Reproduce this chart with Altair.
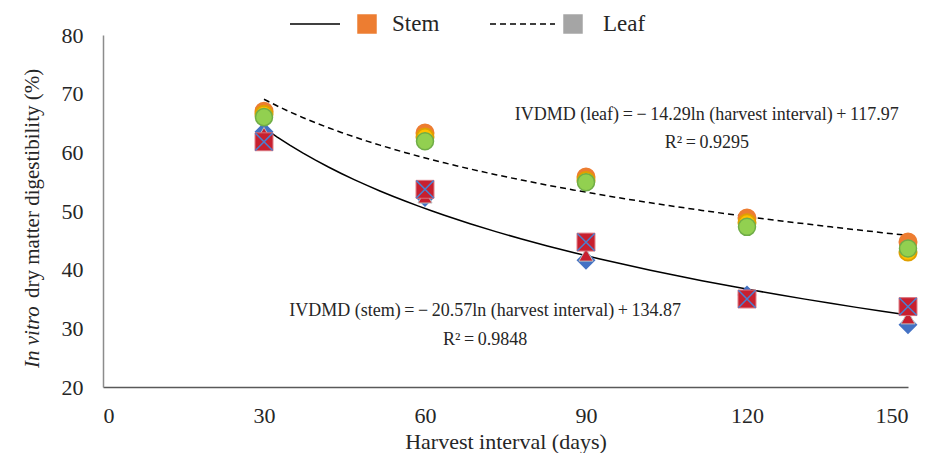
import altair as alt
import pandas as pd

# ---- data ----
days = [30, 60, 90, 120, 150]
stem_diamond = [63.5, 52.3, 41.6, 35.7, 30.6]
stem_triangle = [63.2, 52.4, 42.5, 35.3, 31.8]
stem_square = [61.8, 53.7, 44.7, 35.0, 33.7]
leaf_orange = [67.0, 63.3, 55.8, 48.8, 44.7]
leaf_yellow = [66.5, 62.6, 55.2, 48.0, 43.0]
leaf_green = [66.0, 61.9, 54.9, 47.3, 43.6]

x_ticks = [0, 30, 60, 90, 120, 150]
y_ticks = [20, 30, 40, 50, 60, 70, 80]
legend_labels = ["Stem", "Leaf"]

leaf_eq = "IVDMD (leaf)\u2009=\u2009\u2212\u200914.29ln (harvest interval)\u2009+\u2009117.97"
leaf_r2 = "R\u00b2\u2009=\u20090.9295"
stem_eq = "IVDMD (stem)\u2009=\u2009\u2212\u200920.57ln (harvest interval)\u2009+\u2009134.87"
stem_r2 = "R\u00b2\u2009=\u20090.9848"
ann_x = [112.5, 112.5, 71.2, 71.2]
ann_y = [66.4, 61.6, 33.0, 28.0]
ann_text = [leaf_eq, leaf_r2, stem_eq, stem_r2]

FONT = "'Liberation Serif', 'Times New Roman', serif"
TXT = "#262626"

rows = []
for part, rep, vals in [
    ("Stem", "diamond", stem_diamond),
    ("Stem", "triangle", stem_triangle),
    ("Stem", "square", stem_square),
    ("Leaf", "orange", leaf_orange),
    ("Leaf", "yellow", leaf_yellow),
    ("Leaf", "green", leaf_green),
]:
    for d, v in zip(days, vals):
        rows.append({"days": d, "value": v, "part": part, "rep": rep})
df = pd.DataFrame(rows)

xs = alt.X("days:Q", scale=alt.Scale(domain=[0, 150], nice=False),
           axis=alt.Axis(values=x_ticks, title="Harvest interval (days)", ticks=False,
                         grid=False, domainColor="#595959", domainWidth=1.5,
                         labelFont=FONT, labelFontSize=22, labelColor=TXT, labelPadding=18,
                         titleFont=FONT, titleFontSize=22, titleFontWeight="normal",
                         titleColor=TXT, titlePadding=5))
ys = alt.Y("value:Q", scale=alt.Scale(domain=[20, 80], nice=False),
           axis=alt.Axis(values=y_ticks, title=None, ticks=False, grid=False,
                         domainColor="#8c8c8c", domainWidth=1.5,
                         labelFont=FONT, labelFontSize=22, labelColor=TXT, labelPadding=20))

base = alt.Chart(df)

stem_line = base.transform_filter(alt.datum.part == "Stem").transform_regression(
    "days", "value", method="log", extent=[30, 150]
).mark_line(color="black", strokeWidth=1.5).encode(x=xs, y=ys)

leaf_line = base.transform_filter(alt.datum.part == "Leaf").transform_regression(
    "days", "value", method="log", extent=[30, 150]
).mark_line(color="black", strokeWidth=1.5, strokeDash=[6, 4]).encode(x="days:Q", y="value:Q")

def pts(rep, **kw):
    return base.transform_filter(alt.datum.rep == rep).mark_point(opacity=1, **kw).encode(
        x="days:Q", y="value:Q")

diamond = pts("diamond", shape="diamond", filled=True, fill="#4472C4", stroke="#4472C4", size=260)
triangle = pts("triangle", shape="triangle-up", filled=True, fill="#C8202F", stroke="#bfbfbf",
               strokeWidth=1, size=200)
square = pts("square", shape="square", filled=True, fill="#C8202F", stroke="#d9707a",
             strokeWidth=1, size=320)
xmark = pts("square", shape="M-1,-1L1,1M1,-1L-1,1", filled=False, stroke="#4a7fd0",
            strokeWidth=1.5, size=300)
orange = pts("orange", shape="circle", filled=True, fill="#ED7D31", stroke="#ED7D31", size=290)
yellow = pts("yellow", shape="circle", filled=True, fill="#FFC000", stroke="#e0a000", size=290)
green = pts("green", shape="circle", filled=True, fill="#92D050", stroke="#70AD47",
            strokeWidth=1.5, size=290)

ann_df = pd.DataFrame({"x": ann_x, "y": ann_y, "t": ann_text})
ann = alt.Chart(ann_df).mark_text(font=FONT, fontSize=18, color=TXT, align="center",
                                  baseline="middle").encode(x="x:Q", y="y:Q", text="t:N")

one = alt.Chart(pd.DataFrame({"k": [0]}))
leg_solid = one.mark_rule(color="black", strokeWidth=1.5).encode(
    x=alt.value(187), x2=alt.value(237), y=alt.value(-11))
leg_dash = one.mark_rule(color="black", strokeWidth=1.5, strokeDash=[6, 4]).encode(
    x=alt.value(387), x2=alt.value(452), y=alt.value(-11))
leg_sq1 = one.mark_square(size=380, color="#ED7D31", opacity=1).encode(
    x=alt.value(264), y=alt.value(-11))
leg_sq2 = one.mark_square(size=380, color="#A5A5A5", opacity=1).encode(
    x=alt.value(470), y=alt.value(-11))
leg_t1 = one.mark_text(font=FONT, fontSize=23, color=TXT, align="left", baseline="middle").encode(
    x=alt.value(289), y=alt.value(-11), text=alt.value(legend_labels[0]))
leg_t2 = one.mark_text(font=FONT, fontSize=23, color=TXT, align="left", baseline="middle").encode(
    x=alt.value(500), y=alt.value(-11), text=alt.value(legend_labels[1]))

ytitle1 = one.mark_text(font=FONT, fontSize=21, color=TXT, align="left", baseline="middle",
                        angle=270, fontStyle="italic").encode(
    x=alt.value(-70), y=alt.value(333), text=alt.value("In vitro"))
ytitle2 = one.mark_text(font=FONT, fontSize=21, color=TXT, align="left", baseline="middle",
                        angle=270).encode(
    x=alt.value(-70), y=alt.value(263), text=alt.value("dry matter digestibility (%)"))

chart = alt.layer(
    stem_line, leaf_line, diamond, triangle, square, xmark, orange, yellow, green, ann,
    leg_solid, leg_dash, leg_sq1, leg_sq2, leg_t1, leg_t2, ytitle1, ytitle2
).properties(
    width=805, height=352,
    padding={"left": 95, "top": 27, "right": 21, "bottom": 66},
    autosize=alt.AutoSizeParams(type="none"),
).configure(background="white", font=FONT).configure_view(stroke=None).configure_text(
    font=FONT).configure_axis(labelFont=FONT, titleFont=FONT)

chart.save("out.html", embed_options={"renderer": "svg", "actions": False})
